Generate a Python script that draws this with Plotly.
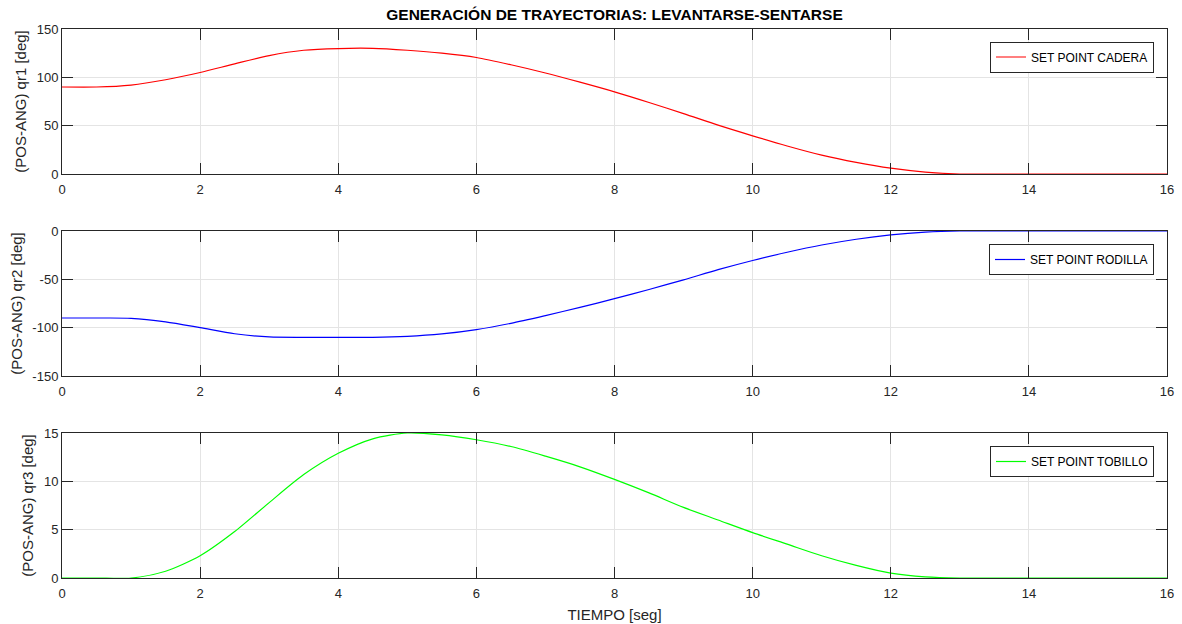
import plotly.graph_objects as go

# ---------------- data ----------------
t_q1 = [0, 0.5, 1, 1.5, 2, 2.5, 3, 3.5, 4, 4.5, 5, 5.5, 6, 6.5, 7, 7.5, 8,
        8.5, 9, 9.5, 10, 10.5, 11, 11.5, 12, 12.5, 13, 13.5, 14, 15, 16]
q1 = [90, 90, 92, 97.5, 105, 114, 122.5, 128, 129.8, 130, 128, 125, 120.5,
      113, 104.5, 95, 85, 74, 62.5, 50.5, 39.5, 29, 19.5, 12, 6, 2, 0, 0, 0, 0, 0]

t_q2 = [0, 0.5, 1, 1.5, 2, 2.5, 3, 3.5, 4, 4.5, 5, 5.5, 6, 6.5,
        7, 7.5, 8, 8.5, 9, 9.5, 10, 10.5, 11, 11.5, 12, 12.5, 13, 14, 15, 16]
q2 = [-90, -90, -90.3, -94, -100, -106.3, -109.6, -110, -110,
      -110, -109, -106.5, -102, -95.5, -87.5, -79, -70, -60.5, -50.5, -40,
      -30.5, -22, -14.5, -8.5, -4, -1.2, 0, 0, 0, 0]

t_q3 = [0, 0.5, 1, 1.5, 2, 2.5, 3, 3.5, 4, 4.5, 5, 5.5, 6, 6.5, 7, 7.5, 8,
        8.5, 9, 9.5, 10, 10.5, 11, 11.5, 12, 12.5, 13, 14, 15, 16]
q3 = [0, 0, 0, 0.7, 2.3, 4.8, 7.8, 10.7, 12.9, 14.4, 15, 14.8, 14.3, 13.6,
      12.6, 11.5, 10.2, 8.8, 7.3, 6.0, 4.7, 3.5, 2.3, 1.3, 0.5, 0.12, 0, 0, 0, 0]

names = ["SET POINT CADERA", "SET POINT RODILLA", "SET POINT TOBILLO"]
colors = ["#ff0000", "#0000ff", "#00ff00"]
ytitles = ["(POS-ANG) qr1 [deg]", "(POS-ANG) qr2 [deg]", "(POS-ANG) qr3 [deg]"]
yranges = [[0, 150], [-150, 0], [0, 15]]
ytickvals = [[0, 50, 100, 150], [-150, -100, -50, 0], [0, 5, 10, 15]]
xticks = [0, 2, 4, 6, 8, 10, 12, 14, 16]
title = "GENERACIÓN DE TRAYECTORIAS: LEVANTARSE-SENTARSE"
xtitle = "TIEMPO [seg]"

# ---------------- figure ----------------
W, H = 1182, 624
ml, mr, mt, mb = 62, 15, 29, 46
ph = H - mt - mb
def dom(top_px, bot_px):
    return [(H - mb - bot_px) / ph, (H - mb - top_px) / ph]

domains = [dom(29, 174), dom(231, 376), dom(433, 578)]
legend_tops = [41.5, 244, 446]

FONT = "Liberation Sans, Arial, Helvetica, sans-serif"
AX = "#262626"

fig = go.Figure()
series = [(t_q1, q1), (t_q2, q2), (t_q3, q3)]
for i, (tx, ty) in enumerate(series):
    sfx = "" if i == 0 else str(i + 1)
    fig.add_trace(go.Scatter(
        x=tx, y=ty, mode="lines", name=names[i],
        line=dict(color=colors[i], width=1.2, shape="spline", smoothing=0.75),
        xaxis="x" + sfx, yaxis="y" + sfx, legend="legend" + sfx,
        showlegend=True))

layout = dict(
    template="none",
    width=W, height=H,
    margin=dict(l=ml, r=mr, t=mt, b=mb, autoexpand=False),
    paper_bgcolor="white", plot_bgcolor="white",
    font=dict(family=FONT, color=AX, size=13),
    title=dict(text="<b>" + title + "</b>", x=(ml + (W - ml - mr) / 2) / W,
               xanchor="center", y=1 - 15 / H, yanchor="middle",
               font=dict(size=15.5, color="black", family=FONT)),
)

common = dict(showline=True, linecolor=AX, linewidth=1, mirror="allticks",
              ticks="inside", ticklen=11, tickwidth=1, tickcolor=AX,
              showgrid=True, gridcolor="#e4e4e4", gridwidth=1, zeroline=False,
              automargin=False,
              tickfont=dict(size=13, color=AX, family=FONT))

for i in range(3):
    sfx = "" if i == 0 else str(i + 1)
    xa = dict(common, range=[0, 16], tickvals=xticks,
              ticktext=[str(v) for v in xticks],
              anchor="y" + sfx, domain=[0, 1], ticklabelstandoff=3)
    if i == 2:
        xa["title"] = dict(text=xtitle, font=dict(size=15, color=AX, family=FONT),
                           standoff=9)
    ya = dict(common, range=yranges[i], tickvals=ytickvals[i],
              ticktext=[str(v) for v in ytickvals[i]],
              anchor="x" + sfx, domain=domains[i],
              title=dict(text=ytitles[i], font=dict(size=15, color=AX, family=FONT),
                         standoff=6))
    layout["xaxis" + sfx] = xa
    layout["yaxis" + sfx] = ya
    layout["legend" + sfx] = dict(
        x=(1154 - ml) / (W - ml - mr), xanchor="right",
        y=(H - mb - legend_tops[i]) / ph, yanchor="top",
        xref="paper", yref="paper",
        bgcolor="white", bordercolor=AX, borderwidth=1,
        font=dict(size=12, color="black", family=FONT),
        itemclick=False, itemdoubleclick=False)

fig.update_layout(**layout)
fig.write_html("out.html")
